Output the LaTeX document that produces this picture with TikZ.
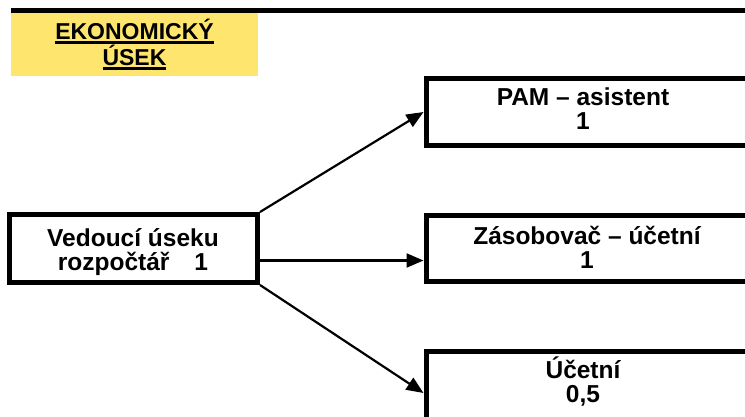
\documentclass[tikz,border=0pt]{standalone}
\usepackage{fontspec}
\setmainfont{Liberation Sans}
\usetikzlibrary{arrows.meta}
\definecolor{headyellow}{RGB}{254,229,110}
\newcommand\headul[1]{\setbox0\hbox{#1}\rlap{\rule[-4.5pt]{\wd0}{2.5pt}}\box0}

\begin{document}
\begin{tikzpicture}[x=1pt,y=-1pt,
    box/.style={draw,line width=5pt,inner sep=0pt},
    boxtext/.style={inner sep=0pt,align=center,font=\bfseries\fontsize{24.5}{24}\selectfont},
    arr/.style={-{Triangle[length=17pt,width=14pt]},line width=2.2pt}]
\useasboundingbox (0,0) rectangle (745,417);
\clip (0,0) rectangle (745,417);
\node[fill=headyellow,minimum width=247,minimum height=63,inner sep=0pt,align=center,
    font=\bfseries\fontsize{23}{26}\selectfont] (head) at (134.5,44.5)
    {\headul{EKONOMICKÝ}\\\headul{ÚSEK}};
\draw[line width=5pt] (11,10.5) -- (745,10.5);
\node[box,minimum width=248,minimum height=68] (root) at (133.5,248.5) {};
\node[boxtext] (roott) at (133,252.5) {Vedoucí úseku\\rozpočtář\hspace{25pt}1};
\node[box,minimum width=346,minimum height=67,anchor=west] (pam) at (423.5,112) {};
\node[boxtext] (pamt) at (583,108.5) {PAM – asistent\\1};
\node[box,minimum width=346,minimum height=66,anchor=west] (zas) at (423.5,248.5) {};
\node[boxtext] (zast) at (587,247.5) {Zásobovač – účetní\\1};
\node[box,minimum width=346,minimum height=84,anchor=west] (uce) at (423.5,393) {};
\node[boxtext] (ucet) at (583,382) {Účetní\\0,5};
\draw[arr] (root.north east) -- (pam.west);
\draw[arr] ([yshift=-12pt]root.east) -- ([yshift=-12pt]zas.west);
\draw[arr] (root.south east) -- (uce.west);
\end{tikzpicture}
\end{document}
